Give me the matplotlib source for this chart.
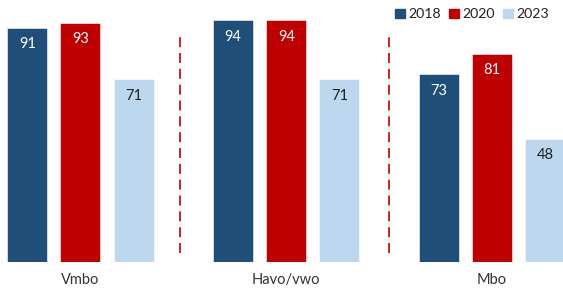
import matplotlib
matplotlib.use("Agg")
import matplotlib.pyplot as plt
import numpy as np

CATEGORIES = ["Vmbo", "Havo/vwo", "Mbo"]
YEARS = ["2018", "2020", "2023"]
VALUES = {
    "2018": [91, 94, 73],
    "2020": [93, 94, 81],
    "2023": [71, 71, 48],
}
COLORS = {"2018": "#1f4e79", "2020": "#c00000", "2023": "#bdd7ee"}
TEXT_COLORS = {"2018": "white", "2020": "white", "2023": "#222222"}

plt.rcParams["font.family"] = ["Lato", "DejaVu Sans"]

fig = plt.figure(figsize=(5.63, 2.89), dpi=100)
ax = fig.add_axes([0, 27 / 289, 1, 1 - 27 / 289])

x = np.arange(len(CATEGORIES))
step, width = 0.258, 0.194
for i, yr in enumerate(YEARS):
    xs = x + (i - 1) * step
    ax.bar(xs, VALUES[yr], width=width, color=COLORS[yr], edgecolor="white",
           linewidth=0.4, zorder=2)
    for xi, v in zip(xs, VALUES[yr]):
        ax.text(xi, v - 6.3, f"{v}", ha="center", va="center", fontsize=10.5,
                color=TEXT_COLORS[yr])

# dashed separators between the school types
for xd in (0.484, 1.5):
    ax.plot([xd, xd], [3.5, 89.5], color="#c00000", lw=1.2,
            dashes=(6, 3.5), zorder=1)

ax.set_xlim(-0.391, 2.345)
ax.set_ylim(0, 262 / 2.571)
ax.axis("off")

for xi, cat in zip(x, CATEGORIES):
    ax.text(xi, -7.0, cat, ha="center", va="center", fontsize=10.5,
            color="#333333", clip_on=False)

handles = [plt.Rectangle((0, 0), 1, 1, color=COLORS[y]) for y in YEARS]
fig.legend(handles, YEARS, loc="upper right", bbox_to_anchor=(0.995, 1.01),
           ncol=3, frameon=False, fontsize=10.2, handlelength=0.7,
           handleheight=0.7, handletextpad=0.25, columnspacing=0.55,
           labelcolor="#222222", borderpad=0.3)

fig.savefig("out.png", dpi=100)
